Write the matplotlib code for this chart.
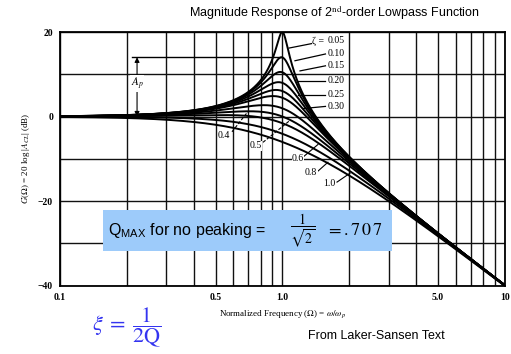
import matplotlib
matplotlib.use("Agg")
import matplotlib.pyplot as plt
from matplotlib.patches import Rectangle
import numpy as np

plt.rcParams['font.family'] = ['Liberation Serif', 'DejaVu Serif']
plt.rcParams['mathtext.fontset'] = 'stix'

# damping ratios of the plotted curves
zetas = [0.05, 0.10, 0.15, 0.20, 0.25, 0.30, 0.4, 0.5, 0.6, 0.8, 1.0]
# normalized frequency samples
omega = np.logspace(-1, 1, 800)

xtick_vals = [0.1, 0.5, 1.0, 5.0, 10]
xtick_labels = ['0.1', '0.5', '1.0', '5.0', '10']
ytick_vals = [20, 0, -20, -40]
ytick_labels = ['20', '0', '\u221220', '\u221240']

# right hand labels: text, leader start (on curves), leader end / text y
right_labels = ['0.05', '0.10', '0.15', '0.20', '0.25', '0.30']
right_start = [(1.07, 16.2), (1.138, 13.2), (1.199, 10.8), (1.162, 8.5), (1.17, 5.2), (1.24, 1.9)]
right_y = [17.9, 14.8, 12.0, 8.5, 5.2, 2.4]

# lower labels: text, text position, leader from / to, dashed?
low_labels = ['0.4', '0.5', '0.6', '0.8', '1.0']
low_pos = [(0.513, -4.5), (0.714, -6.9), (1.103, -9.9), (1.262, -13.2), (1.521, -15.8)]
low_from = [(0.593, -3.6), (0.817, -6.1), (1.249, -9.4), (1.444, -12.9), (1.758, -15.5)]
low_to = [(0.70, 1.2), (1.081, -0.9), (1.444, -6.6), (1.601, -10.8), (2.011, -13.4)]
low_dash = [True, True, False, False, False]


def gain_db(w, z):
    return -20 * np.log10(np.sqrt((1 - w ** 2) ** 2 + (2 * z * w) ** 2))


fig = plt.figure(figsize=(5.11, 3.54), dpi=100)
ax = fig.add_axes([0.1174, 0.193, 0.8708, 0.7166])
ax.set_xscale('log')

# grid
for g in list(np.arange(1, 10) * 0.1) + list(np.arange(1, 11)):
    ax.axvline(g, color='#111111', lw=1.0, zorder=1)
for h in range(-40, 21, 10):
    ax.axhline(h, color='#111111', lw=1.0, zorder=1)

for z in zetas:
    ax.plot(omega, gain_db(omega, z), color='black', lw=1.4, zorder=3)

ax.set_xlim(0.1, 10)
ax.set_ylim(-40, 20)
ax.set_xticks(xtick_vals)
ax.set_xticklabels(xtick_labels)
ax.set_xticks([], minor=True)
ax.set_yticks(ytick_vals)
ax.set_yticklabels(ytick_labels)
ax.tick_params(length=0, labelsize=7, pad=5)
for lab in ax.get_xticklabels() + ax.get_yticklabels():
    lab.set_fontweight('bold')
for s in ax.spines.values():
    s.set_linewidth(1.3)

# Ap marker at the zeta=0.10 peak
pk = gain_db(omega, 0.10)
ax.plot([0.21, omega[np.argmax(pk)]], [pk.max(), pk.max()], color='black', lw=1.0, zorder=3)
ax.annotate('', xy=(0.222, pk.max()), xytext=(0.222, 0),
            arrowprops=dict(arrowstyle='<|-|>', color='black', lw=0.8,
                            mutation_scale=7, shrinkA=0, shrinkB=0), zorder=4)
ax.text(0.222, 7.8, '$A_p$', ha='center', va='center', fontsize=8,
        bbox=dict(facecolor='white', edgecolor='none', pad=0.5), zorder=5)

# labels on the right
for lab, st, yy in zip(right_labels, right_start, right_y):
    ax.plot([st[0], 1.56], [st[1], yy], color='black', lw=0.9, zorder=4)
    ax.text(1.60, yy, lab, ha='left', va='center', fontsize=7, zorder=5,
            bbox=dict(facecolor='white', edgecolor='none', pad=0.2))
ax.text(1.58, right_y[0], '\u03b6 = ', ha='right', va='center', fontsize=7, zorder=5,
        bbox=dict(facecolor='white', edgecolor='none', pad=0.2))

for lab, p, a, b, d in zip(low_labels, low_pos, low_from, low_to, low_dash):
    ax.plot([a[0], b[0]], [a[1], b[1]], color='black', lw=0.8,
            ls=(0, (3, 1.5)) if d else '-', zorder=4)
    ax.text(p[0], p[1], lab, ha='left', va='center', fontsize=7, zorder=5,
            bbox=dict(facecolor='white', edgecolor='none', pad=0.2))

ax.set_xlabel('Normalized Frequency ($\\Omega$) = $\\omega/\\omega_p$', fontsize=6.5)
ax.set_ylabel('$G(\\Omega)$ = 20 log |$A_{CL}$| (dB)', fontsize=6.5)
ax.yaxis.set_label_coords(-0.062, 0.5)
ax.xaxis.set_label_coords(0.5, -0.09)

# title
fig.text(0.654, 0.963, 'Magnitude Response of 2$^{\\mathrm{nd}}$-order Lowpass Function',
         ha='center', va='center', fontsize=9, family='Liberation Sans')

# blue box
fig.patches.append(Rectangle((0.2016, 0.291), 0.5656, 0.1158, transform=fig.transFigure,
                             facecolor='#9DCBFA', edgecolor='none', zorder=6))
fig.text(0.212, 0.349, 'Q$\\mathregular{_{MAX}}$ for no peaking = ', ha='left', va='center',
         fontsize=11.5, family='Liberation Sans', zorder=7)
fig.text(0.593, 0.349, '$\\dfrac{1}{\\sqrt{2}}$', ha='center', va='center', fontsize=10, zorder=7)
fig.text(0.638, 0.349, '$=.7\\,0\\,7$', ha='left', va='center', fontsize=13, zorder=7)

# bottom notes
fig.text(0.18, 0.075, '$\\xi\\;=\\;\\dfrac{1}{2\\mathrm{Q}}$', ha='left', va='center',
         fontsize=16, color='#3434F0')
fig.text(0.736, 0.051, 'From Laker-Sansen Text', ha='center', va='center',
         fontsize=9, family='Liberation Sans')

fig.savefig('out.png', dpi=100)
